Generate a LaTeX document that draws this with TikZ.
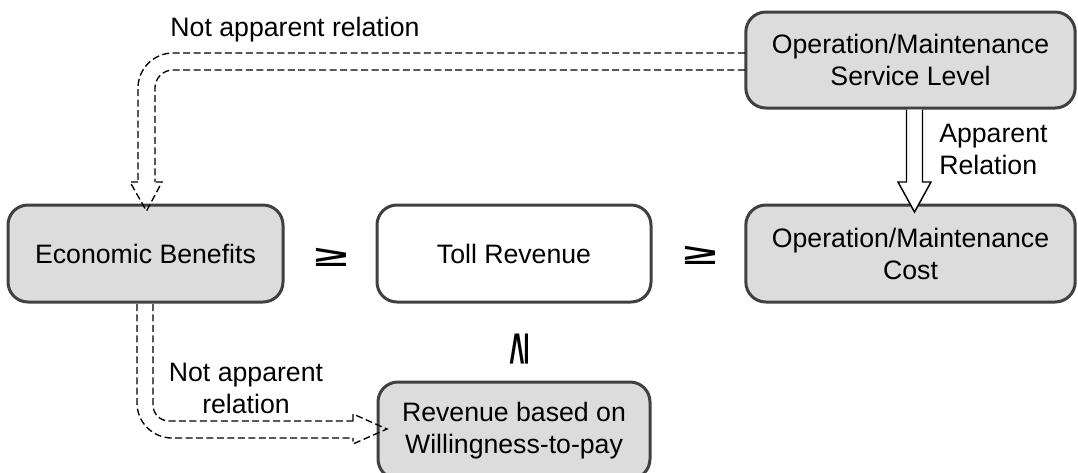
\documentclass[tikz,border=0pt]{standalone}
\usepackage{fontspec}
\setmainfont{Liberation Sans}
\usetikzlibrary{calc}
\definecolor{boxgray}{HTML}{DCDCDC}
\definecolor{boxline}{HTML}{404040}
\tikzset{
  box/.style={draw=boxline, line width=2.25pt, rounded corners=15pt, inner sep=0pt, outer sep=0pt,
    align=center, font=\fontsize{20}{24}\selectfont},
  graybox/.style={box, fill=boxgray},
  whitebox/.style={box, fill=white},
  lbl/.style={inner sep=0pt, font=\fontsize{20}{24}\selectfont},
  geq/.style={inner sep=0pt, font=\fontsize{30}{30}\selectfont\bfseries},
  dashline/.style={draw=black, line width=1pt, dash pattern=on 5.25pt off 2.6pt},
  solidarrow/.style={draw=black, fill=white, line width=1.1pt, line join=miter}
}
\begin{document}
\begin{tikzpicture}[x=0.75pt, y=-0.75pt]
\clip (0,0) rectangle (1078,472);
\useasboundingbox (0,0) rectangle (1078,472);
% nodes
\node[graybox, minimum width=206.25pt, minimum height=72.75pt] (eb) at (145.5,253.5) {Economic Benefits};
\node[whitebox, minimum width=205.5pt, minimum height=72.75pt] (toll) at (514,253.5) {Toll Revenue};
\node[graybox, minimum width=247pt, minimum height=72.75pt] (cost) at (910.5,253.5) {Operation/Maintenance\\Cost};
\node[graybox, minimum width=247pt, minimum height=72pt] (osl) at (910.5,60) {Operation/Maintenance\\Service Level};
\node[graybox, minimum width=204pt, minimum height=72.75pt] (wtp) at (514,430.5) {Revenue based on\\Willingness-to-pay};
% relation symbols
\node[geq, xscale=1.5, yscale=0.72] (g1) at (331,257) {≥};
\node[geq, xscale=1.5, yscale=0.72] (g2) at (700,255) {≥};
\node[geq, rotate=90, xscale=1.5, yscale=0.72] (g3) at (519,349) {≥};
% labels
\node[lbl] (l1) at (295,30) {Not apparent relation};
\node[lbl, anchor=west, align=left] (l2) at (939,149) {Apparent\\Relation};
\node[lbl, align=center] (l3) at (246,388) {Not apparent\\relation};
% top dashed hollow arrow
\draw[dashline, rounded corners=26.25pt] ($(osl.west)+(-1,-7)$) -| ($(eb.north)+(-7.5,-23)$);
\draw[dashline, rounded corners=13.5pt] ($(osl.west)+(-1,10)$) -| ($(eb.north)+(9.5,-23)$);
\draw[dashline] ($(eb.north)+(-7.5,-23)$) -- ($(eb.north)+(-15.5,-23)$) -- ($(eb.north)+(1,6)$)
  -- ($(eb.north)+(16.5,-23)$) -- ($(eb.north)+(9.5,-23)$);
% bottom dashed hollow arrow
\draw[dashline, rounded corners=26.25pt] ($(eb.south)+(-8.5,2)$) |- ($(wtp.west)+(-25,7.5)$);
\draw[dashline, rounded corners=12pt] ($(eb.south)+(7.5,2)$) |- ($(wtp.west)+(-25,-9.5)$);
\draw[dashline] ($(wtp.west)+(-25,-9.5)$) -- ($(wtp.west)+(-25,-16.5)$) -- ($(wtp.west)+(9,-1.5)$)
  -- ($(wtp.west)+(-25,13.5)$) -- ($(wtp.west)+(-25,7.5)$);
% solid hollow arrow
\draw[solidarrow] ($(osl.south)+(-4,1.5)$) -- ($(osl.south)+(-4,74)$) -- ($(osl.south)+(-12.5,74)$)
  -- ($(cost.north)+(4,7)$) -- ($(osl.south)+(20.5,74)$) -- ($(osl.south)+(12,74)$) -- ($(osl.south)+(12,1.5)$);
\end{tikzpicture}
\end{document}
